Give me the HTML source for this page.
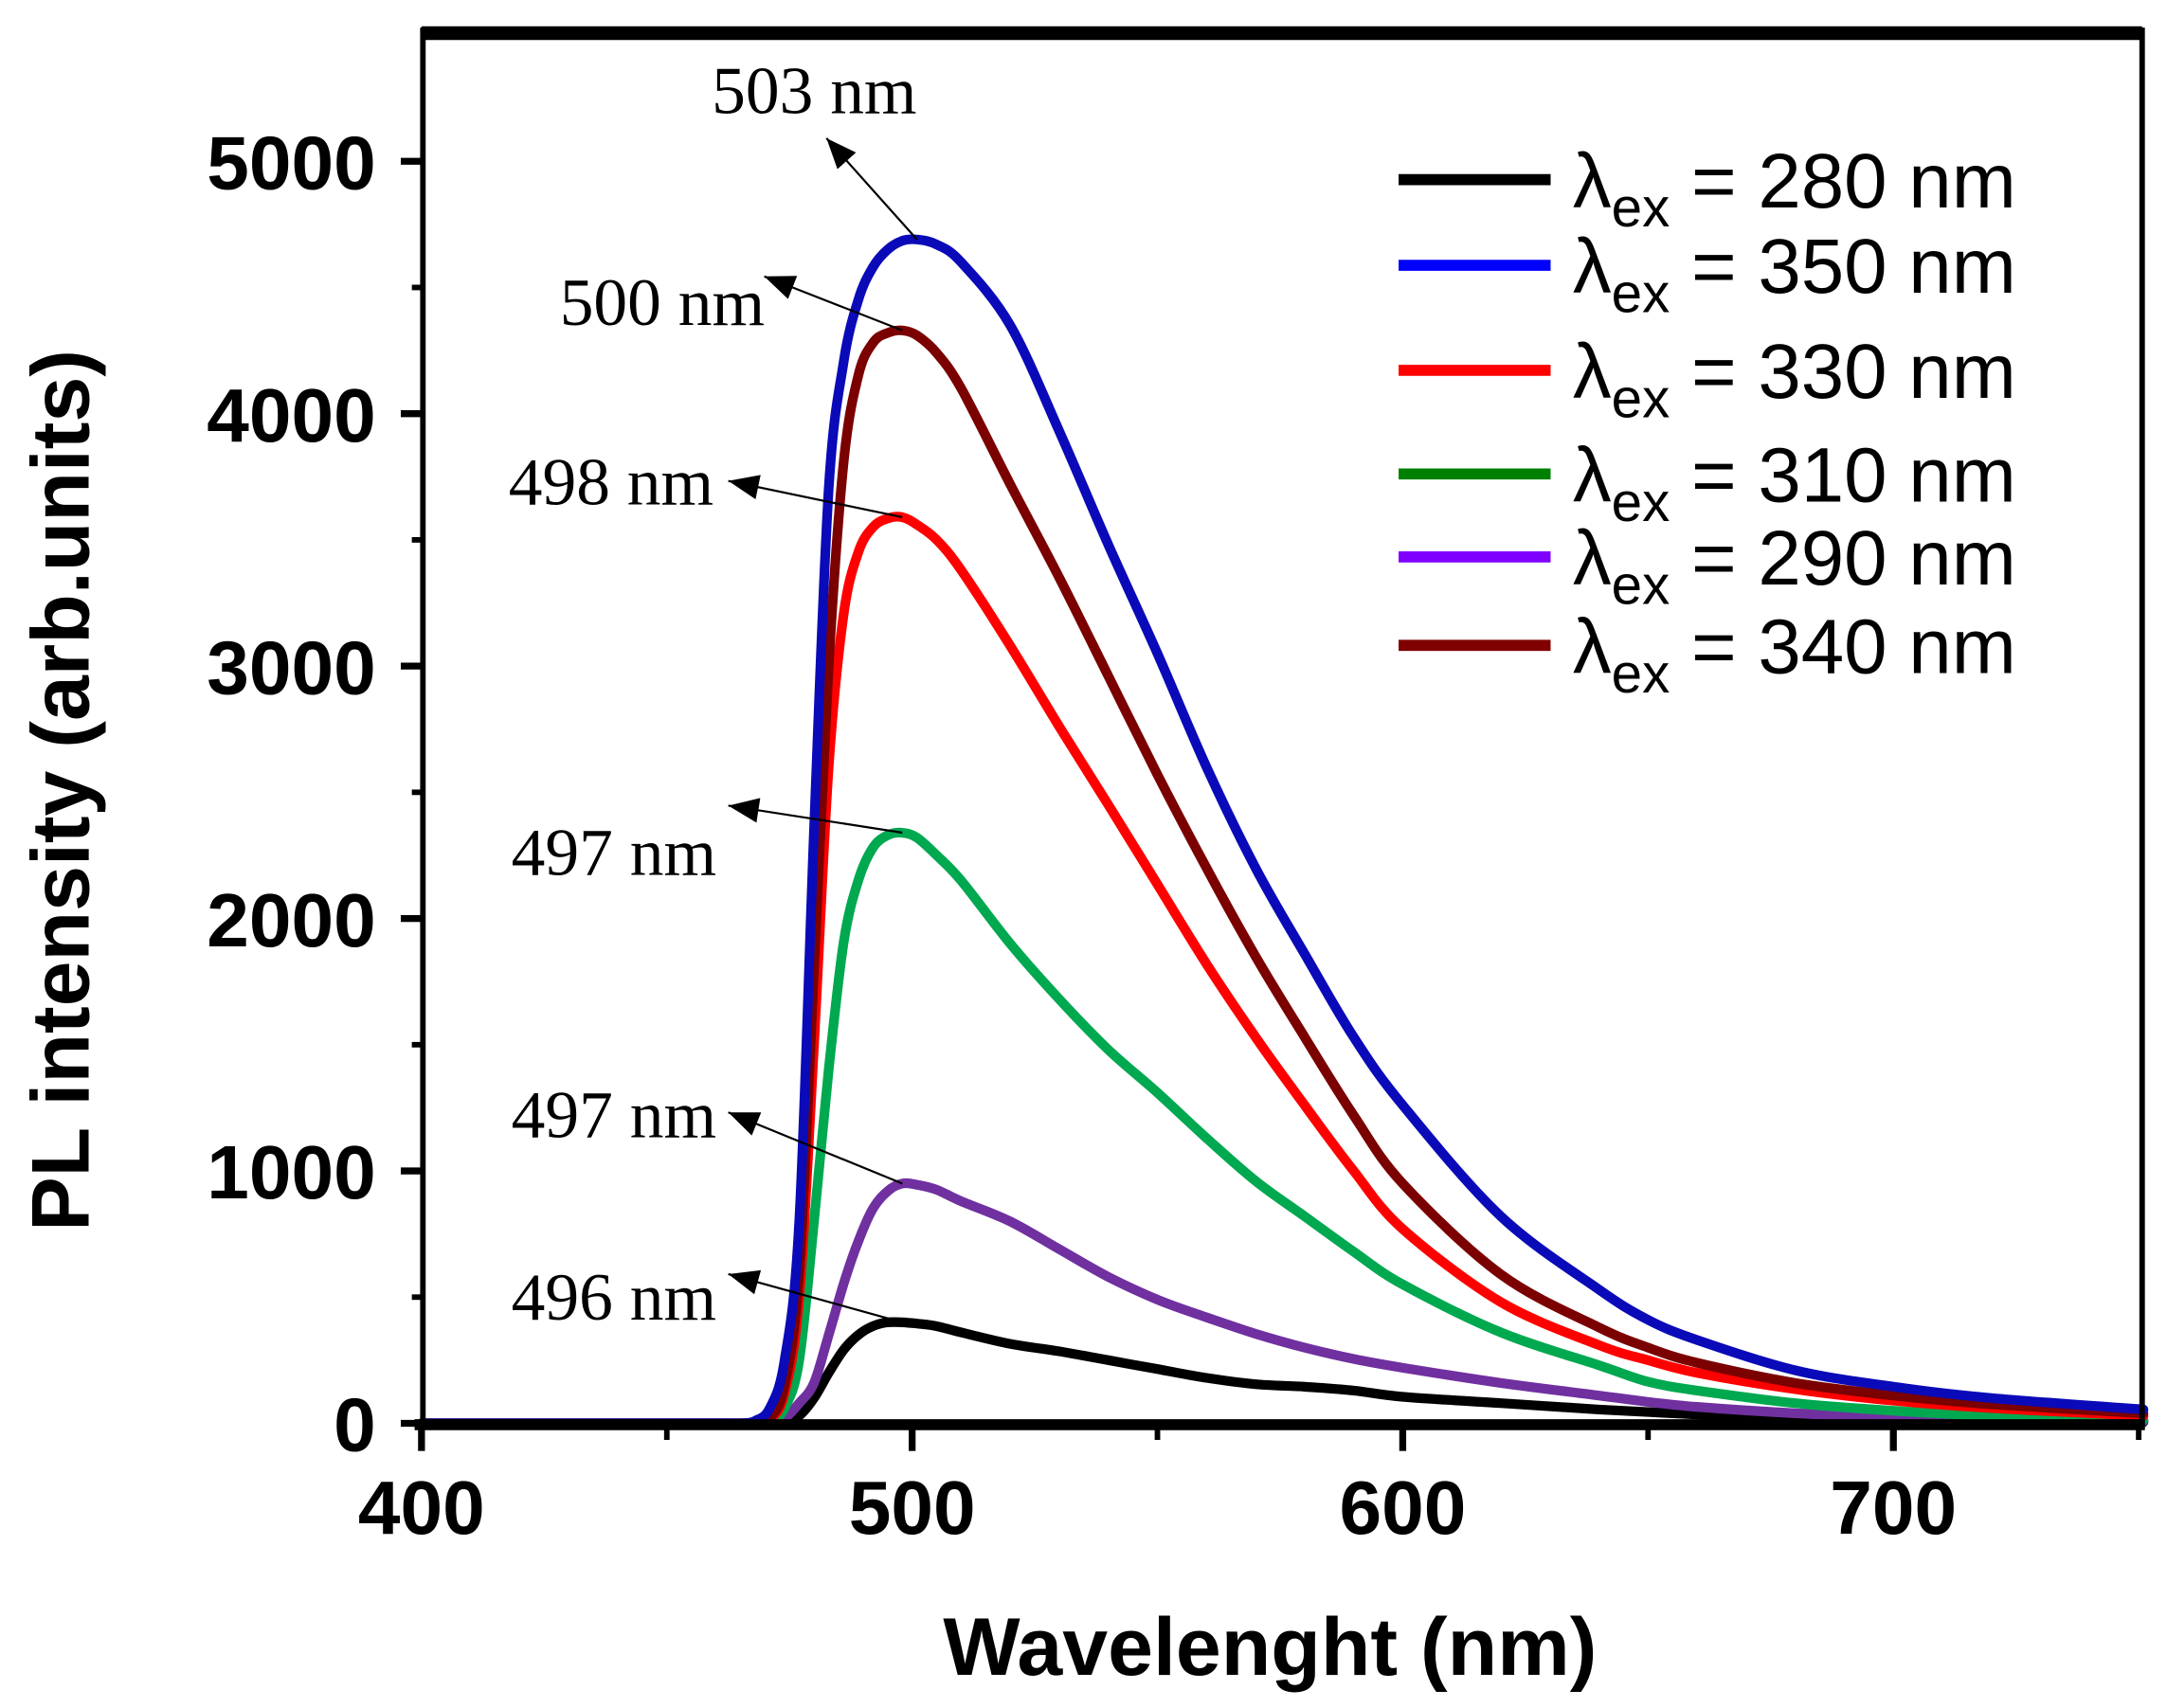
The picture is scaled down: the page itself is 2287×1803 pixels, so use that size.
<!DOCTYPE html>
<html><head><meta charset="utf-8"><style>
html,body{margin:0;padding:0;background:#fff;}
svg{display:block;}
</style></head><body>
<svg id="chart" width="2287" height="1803" viewBox="0 0 1568 1236" preserveAspectRatio="none" xmlns="http://www.w3.org/2000/svg">
<rect x="0" y="0" width="1568" height="1236" fill="#fff"/>
<g id="curves"></g>
<g id="frame">
<line x1="305" y1="24" x2="1550" y2="24" stroke="#000" stroke-width="10"/>
<line x1="306" y1="20" x2="306" y2="1034" stroke="#000" stroke-width="4"/>
<line x1="1550" y1="20" x2="1550" y2="1034" stroke="#000" stroke-width="4"/>
<line x1="300" y1="1031" x2="1552" y2="1031" stroke="#000" stroke-width="8"/>
</g>
<g id="ticks"></g>
<g font-family="'Liberation Sans', sans-serif" font-weight="bold">
<text x="919" y="1212" font-size="59" text-anchor="middle">Wavelenght (nm)</text>
<text transform="translate(64,572) rotate(-90)" font-size="59" text-anchor="middle">PL intensity (arb.units)</text>
</g>
<g id="annots" font-family="'Liberation Serif', serif" font-size="49"></g>
<g id="legend" font-family="'Liberation Sans', sans-serif" font-size="56"></g>
</svg>
<script>
const wavelengths=[400,460,465,468,471,474,477,480,483,486,489,492,495,498,501,505,510,520,530,540,550,560,570,580,590,600,620,640,650,660,680,700,720,751];
const seriesLabels=["280","350","330","310","290","340"];
const seriesColors=["#000000","#0a0ab8","#ff0000","#00a850","#7030a0","#7b0000"];
const legendColors=["#000000","#0000ff","#ff0000","#008000","#8000ff","#800000"];
const s280=[0,0,0,0,0,0,30,100,200,290,350,385,400,400,395,385,360,315,285,250,215,180,155,145,130,105,80,55,45,35,20,12,8,5];
const s350=[0,0,0,10,60,250,800,2350,3700,4200,4450,4580,4650,4685,4690,4670,4600,4350,3930,3480,3050,2600,2200,1860,1530,1260,820,530,410,330,210,145,100,55];
const s330=[0,0,0,0,15,120,500,1500,2600,3200,3450,3550,3585,3590,3560,3500,3380,3080,2760,2450,2135,1820,1530,1260,1000,770,480,310,250,200,135,90,60,30];
const s310=[0,0,0,0,5,60,250,800,1400,1900,2150,2280,2330,2340,2320,2250,2150,1900,1680,1480,1310,1130,960,820,680,550,360,230,165,130,80,50,30,15];
const s290=[0,0,0,0,0,20,80,160,350,550,720,850,920,950,945,925,880,800,690,580,490,420,355,300,255,220,160,110,85,65,40,25,15,8];
const s340=[0,0,0,0,20,150,600,1800,3000,3800,4150,4280,4320,4330,4310,4240,4100,3720,3350,2960,2570,2200,1850,1530,1220,950,590,380,300,240,160,110,75,40];
const drawOrder=[0,4,3,2,5,1];
const yTicks=[0,1000,2000,3000,4000,5000];
const xTicks=[400,500,600,700];
const peakLabels=["503 nm","500 nm","498 nm","497 nm","497 nm","496 nm"];
const peakVals=[4690,4330,3590,2340,950,400];
const peakNm=[501,498,498,498,498,498];
const NS="http://www.w3.org/2000/svg";
function X(nm){return 305+(nm-400)*3.55;}
function Y(v){return 1030-v*0.18266;}
function mk(tag,attrs,parent){const e=document.createElementNS(NS,tag);for(const k in attrs)e.setAttribute(k,attrs[k]);parent.appendChild(e);return e;}
function smoothPath(P){
  let d="M"+P[0][0].toFixed(1)+","+P[0][1].toFixed(1);
  for(let i=0;i<P.length-1;i++){
    const p0=P[Math.max(0,i-1)],p1=P[i],p2=P[i+1],p3=P[Math.min(P.length-1,i+2)];
    const c1x=p1[0]+(p2[0]-p0[0])/6,c1y=p1[1]+(p2[1]-p0[1])/6;
    const c2x=p2[0]-(p3[0]-p1[0])/6,c2y=p2[1]-(p3[1]-p1[1])/6;
    d+=" C"+c1x.toFixed(1)+","+c1y.toFixed(1)+" "+c2x.toFixed(1)+","+c2y.toFixed(1)+" "+p2[0].toFixed(1)+","+p2[1].toFixed(1);
  }
  return d;
}
const all=[s280,s350,s330,s310,s290,s340];
const cg=document.getElementById('curves');
drawOrder.forEach(i=>{
  const P=wavelengths.map((w,j)=>[X(w),Y(all[i][j])]);
  const p=mk('path',{d:smoothPath(P),fill:'none',stroke:seriesColors[i],'stroke-width':7,'stroke-linejoin':'round','stroke-linecap':'round'},cg);
  
  
});
const tg=document.getElementById('ticks');
yTicks.forEach(v=>{
  const l=mk('line',{x1:290,x2:306,y1:Y(v),y2:Y(v),stroke:'#000','stroke-width':5},tg);
  
  
  const t=mk('text',{x:272,y:Y(v)+20,'font-size':55,'font-weight':'bold','text-anchor':'end','font-family':"'Liberation Sans', sans-serif"},tg);
  t.textContent=v;
  
  
  if(v<5000){const m=mk('line',{x1:298,x2:306,y1:Y(v+500),y2:Y(v+500),stroke:'#000','stroke-width':4},tg);
  
  }
});
xTicks.forEach(v=>{
  const l=mk('line',{x1:X(v),x2:X(v),y1:1031,y2:1050,stroke:'#000','stroke-width':5},tg);
  
  
  const t=mk('text',{x:X(v),y:1110,'font-size':55,'font-weight':'bold','text-anchor':'middle','font-family':"'Liberation Sans', sans-serif"},tg);
  t.textContent=v;
  
  
  const m=mk('line',{x1:X(v+50),x2:X(v+50),y1:1031,y2:1042,stroke:'#000','stroke-width':4},tg);
  
  
});
const ag=document.getElementById('annots');
const annTextPos=[[515,82],[405,235],[368,365],[370,633],[370,823],[370,955]];
const annTip=[[598,100],[553,200],[527,348],[527,583],[527,805],[527,922]];
peakLabels.forEach((lab,i)=>{
  const t=mk('text',{x:annTextPos[i][0],y:annTextPos[i][1]},ag);
  t.textContent=lab;
  
  
  const x1=X(peakNm[i]),y1=Y(peakVals[i]);
  const [x2,y2]=annTip[i];
  const l=mk('line',{x1:x1,y1:y1,x2:x2,y2:y2,stroke:'#000','stroke-width':1.5},ag);
  
  
  const a=Math.atan2(y2-y1,x2-x1),L=22,W=9;
  const bx=x2-L*Math.cos(a),by=y2-L*Math.sin(a);
  const h=mk('polygon',{points:`${x2},${y2} ${bx+W*Math.sin(a)},${by-W*Math.cos(a)} ${bx-W*Math.sin(a)},${by+W*Math.cos(a)}`,fill:'#000'},ag);
  
  
});
const lg=document.getElementById('legend');
const legY=[130,192,268,343,403,467];
seriesLabels.forEach((lab,i)=>{
  const l=mk('line',{x1:1012,x2:1122,y1:legY[i],y2:legY[i],stroke:legendColors[i],'stroke-width':8},lg);
  
  
  const t=mk('text',{x:1138,y:legY[i]+20},lg);
  t.innerHTML='λ<tspan font-size="40" dy="14">ex</tspan><tspan dy="-14"> = '+lab+' nm</tspan>';
  
  
});
</script>
</body></html>
